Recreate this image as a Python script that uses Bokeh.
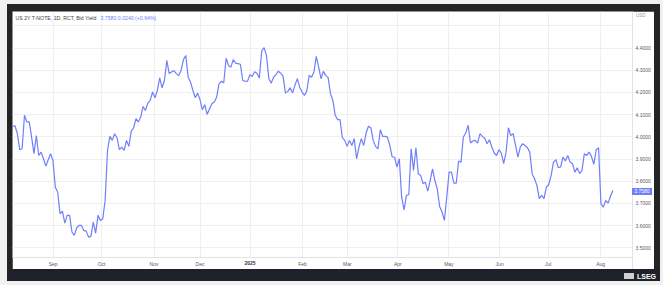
from bokeh.plotting import figure
from bokeh.models import Range1d, FixedTicker, Label, Div, GridBox
from bokeh.embed import file_html
from bokeh.resources import INLINE

# ---- data ----
yield_values = [
    4.047, 4.050, 4.014, 3.942, 3.946, 4.097, 4.067, 4.067, 3.999, 3.924,
    4.006, 3.916, 3.931, 3.901, 3.868, 3.897, 3.924, 3.894, 3.773, 3.751,
    3.653, 3.665, 3.611, 3.646, 3.646, 3.571, 3.556, 3.590, 3.601, 3.601,
    3.578, 3.575, 3.548, 3.551, 3.616, 3.566, 3.646, 3.623, 3.631, 3.713,
    3.939, 4.002, 3.984, 4.014, 3.996, 3.942, 3.954, 3.939, 3.984, 3.957,
    4.026, 4.041, 4.082, 4.067, 4.089, 4.137, 4.119, 4.152, 4.164, 4.202,
    4.176, 4.209, 4.266, 4.221, 4.254, 4.345, 4.285, 4.292, 4.299, 4.285,
    4.276, 4.299, 4.348, 4.367, 4.269, 4.247, 4.209, 4.176, 4.197, 4.167,
    4.122, 4.145, 4.101, 4.127, 4.149, 4.157, 4.179, 4.239, 4.250, 4.244,
    4.354, 4.322, 4.314, 4.348, 4.332, 4.330, 4.327, 4.254, 4.251, 4.250,
    4.280, 4.272, 4.293, 4.287, 4.265, 4.387, 4.402, 4.367, 4.262, 4.242,
    4.269, 4.280, 4.296, 4.287, 4.274, 4.197, 4.205, 4.221, 4.197, 4.232,
    4.262, 4.224, 4.202, 4.187, 4.206, 4.277, 4.269, 4.292, 4.363, 4.314,
    4.262, 4.295, 4.277, 4.267, 4.194, 4.164, 4.097, 4.077, 4.078, 3.996,
    3.984, 3.957, 3.984, 3.961, 3.992, 3.901, 3.954, 3.992, 3.961, 4.017,
    4.048, 4.041, 3.984, 3.957, 3.946, 4.032, 4.002, 4.002, 3.999, 3.961,
    3.909, 3.909, 3.864, 3.901, 3.728, 3.671, 3.736, 3.739, 3.946, 3.849,
    3.951, 3.834, 3.826, 3.789, 3.795, 3.755, 3.803, 3.856, 3.803, 3.766,
    3.686, 3.661, 3.623, 3.728, 3.841, 3.841, 3.791, 3.791, 3.891, 3.885,
    3.999, 4.017, 4.052, 3.972, 3.981, 3.984, 3.972, 4.014, 4.002, 3.994,
    3.969, 3.987, 3.954, 3.927, 3.916, 3.942, 3.927, 3.879, 3.931, 4.041,
    4.006, 4.014, 3.961, 3.909, 3.954, 3.969, 3.961, 3.951, 3.931, 3.834,
    3.811, 3.781, 3.721, 3.736, 3.721, 3.773, 3.785, 3.826, 3.886, 3.897,
    3.861, 3.864, 3.909, 3.891, 3.916, 3.886, 3.879, 3.841, 3.861, 3.834,
    3.849, 3.924, 3.916, 3.931, 3.912, 3.876, 3.942, 3.951, 3.698, 3.683,
    3.713, 3.701, 3.731, 3.758,
]
day_index = list(range(len(yield_values)))

month_tick_index = [17.1, 37.5, 59.6, 79.0, 100.4, 122.2, 141.1, 162.4, 183.9, 205.3, 225.8, 247.9]
month_tick_labels = ["Sep", "Oct", "Nov", "Dec", "2025", "Feb", "Mar", "Apr", "May", "Jun", "Jul", "Aug"]
bold_label = "2025"

y_ticks = [3.5, 3.6, 3.7, 3.8, 3.9, 4.0, 4.1, 4.2, 4.3, 4.4, 4.5]

title_text = "US 2Y T-NOTE, 1D, RCT, Bid Yield"
quote_text = "3.7580  0.0240 (+0.64%)"
last_price_text = "3.7580"
currency_text = "USD"
brand_text = "LSEG"

# ---- styling ----
LINE = "#6f7ffb"
GRID = "#efefef"
AXIS = "#e3e3e3"
LABEL = "#5a5a5a"
FONT = "Liberation Sans"
DARK = "#242424"
DARK_BOTTOM = "#1e2129"
OUTER = "#f1f1f1"

W, H = 663, 285
PX, PY = 12, 11            # white panel origin on the page
PW, PH = 642, 258          # white panel size
BR, BB = 22, 12            # right / bottom axis room
FRAME_W, FRAME_H = PW - BR, PH - BB
X_LO, X_HI = -0.05, 261.3
Y_LO, Y_HI = 3.456, 4.565

p = figure(width=PW, height=PH, output_backend="svg", toolbar_location=None,
           x_range=Range1d(X_LO, X_HI), y_range=Range1d(Y_LO, Y_HI),
           y_axis_location="right", title=None,
           min_border_left=0, min_border_right=BR, min_border_top=0, min_border_bottom=BB,
           margin=(PY, W - PX - PW, H - PY - PH, PX))
p.background_fill_color = "white"
p.border_fill_color = "white"
p.outline_line_color = None

p.line(day_index, yield_values, line_color=LINE, line_width=1.2)

xt = FixedTicker(ticks=month_tick_index)
yt = FixedTicker(ticks=y_ticks)
xa = p.xaxis[0]
xa.ticker = xt
xa.major_label_overrides = {t: ("" if lab == bold_label else lab) for t, lab in zip(month_tick_index, month_tick_labels)}
ya = p.yaxis[0]
ya.ticker = yt
ya.major_label_overrides = {t: ("" if t >= 4.45 else f"{t:.4f}") for t in y_ticks}
for ax in (xa, ya):
    ax.axis_line_color = AXIS
    ax.major_tick_line_color = None
    ax.minor_tick_line_color = None
    ax.major_tick_out = 0
    ax.major_tick_in = 0
    ax.minor_tick_out = 0
    ax.minor_tick_in = 0
    ax.major_label_text_font = FONT
    ax.major_label_text_font_size = "5px"
    ax.major_label_text_color = LABEL
    ax.major_label_standoff = 3

p.xgrid.ticker = xt
p.ygrid.ticker = yt
p.xgrid.grid_line_color = GRID
p.ygrid.grid_line_color = GRID

p.add_layout(Label(x=3, y=6, x_units="canvas", y_units="canvas", text=title_text,
                   text_font=FONT, text_font_size="5.2px", text_color="#444444", text_baseline="middle"))
p.add_layout(Label(x=88, y=6, x_units="canvas", y_units="canvas", text=quote_text,
                   text_font=FONT, text_font_size="5.2px", text_color=LINE, text_baseline="middle"))

# ---- page decoration (dark frame, footer with brand) behind the figure ----
bg_html = (
    f'<div style="position:relative;width:{W}px;height:{H}px;background:{OUTER};overflow:hidden;">'
    f'<div style="position:absolute;left:7px;top:4px;width:653px;height:265px;background:{DARK};"></div>'
    f'<div style="position:absolute;left:7px;top:269px;width:653px;height:12px;background:{DARK_BOTTOM};"></div>'
    f'<div style="position:absolute;left:624px;top:273px;width:10px;height:6px;background:#cfcfcf;"></div>'
    f'<div style="position:absolute;left:637px;top:271px;height:12px;line-height:12px;font-family:{FONT};'
    f'font-weight:bold;font-size:7px;color:#ffffff;">{brand_text}</div>'
    '</div>'
)
bg = Div(text=bg_html, width=W, height=H, margin=(0, 0, 0, 0))

# ---- overlays on the figure's axis areas ----
last_sy = PY + (Y_HI - yield_values[-1]) / (Y_HI - Y_LO) * FRAME_H
tag = Div(text=last_price_text, width=20, height=7,
          margin=(int(round(last_sy - 2.5)), 0, 0, PX + FRAME_W),
          styles={"background-color": LINE, "color": "white", "font-size": "5px",
                  "line-height": "7px", "font-family": FONT, "text-align": "center"})
usd = Div(text=currency_text, width=14, height=7, margin=(PY + 1, 0, 0, PX + FRAME_W + 4),
          styles={"color": "#999999", "font-size": "4.5px", "line-height": "7px", "font-family": FONT})
axis_ext = Div(text="", width=1, height=BB, margin=(PY + FRAME_H, 0, 0, PX + FRAME_W),
               styles={"background-color": AXIS})
bi = month_tick_labels.index(bold_label)
bold_sx = PX + (month_tick_index[bi] - X_LO) / (X_HI - X_LO) * FRAME_W
year = Div(text=bold_label, width=20, height=7,
           margin=(PY + FRAME_H + 3, 0, 0, int(round(bold_sx - 10))),
           styles={"color": "#333333", "font-size": "5px", "font-weight": "bold", "line-height": "7px",
                   "font-family": FONT, "text-align": "center"})

layout = GridBox(children=[(bg, 0, 0), (p, 0, 0), (axis_ext, 0, 0), (usd, 0, 0), (year, 0, 0), (tag, 0, 0)],
                 width=W, height=H)

open("out.html", "w").write(file_html(layout, INLINE))
